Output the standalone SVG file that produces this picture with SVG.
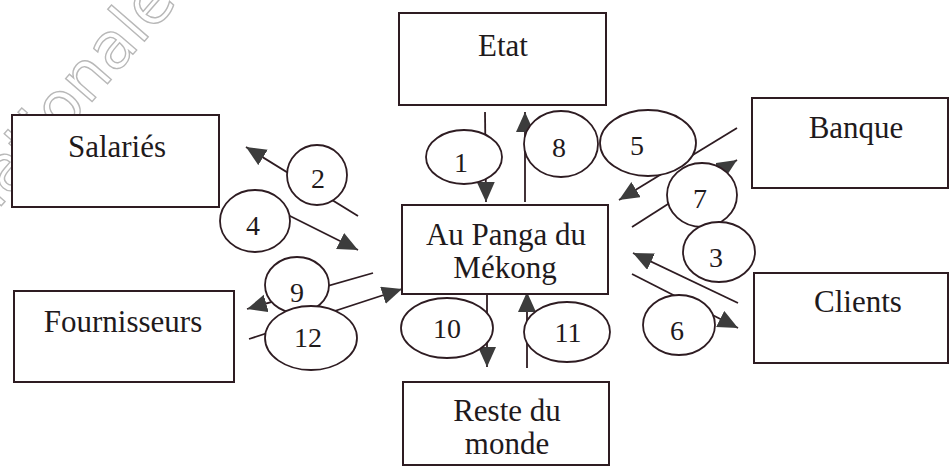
<svg xmlns="http://www.w3.org/2000/svg" width="950" height="467" viewBox="0 0 950 467">
<style>
.box{fill:#fff;stroke:#2e1c22;stroke-width:2}
.lbl{font-family:"Liberation Serif","Times New Roman",serif;font-size:31px;fill:#1f1a1c;text-anchor:middle}
.num{font-family:"Liberation Serif","Times New Roman",serif;font-size:28px;fill:#1f1a1c;text-anchor:middle}
.ell{fill:#fff;stroke:#2e1c22;stroke-width:1.8}
.ln{stroke:#2e1c22;stroke-width:1.8;fill:none;marker-end:url(#ah)}
.wm{font-family:"DejaVu Sans","Liberation Sans",sans-serif;font-size:64px;fill:none;stroke:#b8b8b8;stroke-width:1.4}
</style>
<defs>
<marker id="ah" markerUnits="userSpaceOnUse" markerWidth="22" markerHeight="20" refX="20" refY="9" orient="auto">
<path d="M0,0 L20,9 L0,18 z" fill="#3c3c3c"/>
</marker>
</defs>
<rect width="950" height="467" fill="#fff"/>
<text class="wm" transform="translate(-18,228) rotate(-49)">nationale e</text>

<g id="connectors">
<line class="ln" x1="485" y1="112" x2="486" y2="202"/>
<line class="ln" x1="525" y1="202" x2="525" y2="112"/>
<line class="ln" x1="737" y1="128" x2="619" y2="200"/>
<line class="ln" x1="632" y1="227" x2="737" y2="160"/>
<line class="ln" x1="738" y1="303" x2="633" y2="253"/>
<line class="ln" x1="632" y1="274" x2="738" y2="328"/>
<line class="ln" x1="358" y1="216" x2="246" y2="147"/>
<line class="ln" x1="262" y1="202" x2="358" y2="250"/>
<line class="ln" x1="373" y1="273" x2="247" y2="309"/>
<line class="ln" x1="249" y1="339" x2="402" y2="289"/>
<line class="ln" x1="487" y1="288" x2="487" y2="367"/>
<line class="ln" x1="527" y1="368" x2="527" y2="292"/>
</g>

<g id="etat"><rect class="box" x="399" y="13" width="207" height="92"/><text class="lbl" x="503" y="56">Etat</text></g>
<g id="salaries"><rect class="box" x="12" y="115" width="207" height="92"/><text class="lbl" x="117" y="157">Salariés</text></g>
<g id="fournisseurs"><rect class="box" x="14" y="291" width="220" height="91"/><text class="lbl" x="123" y="332">Fournisseurs</text></g>
<g id="aupanga"><rect class="box" x="402" y="205" width="206" height="89"/><text class="lbl" x="506" y="245">Au Panga du</text><text class="lbl" x="505" y="278">Mékong</text></g>
<g id="reste"><rect class="box" x="403" y="382" width="206" height="83"/><text class="lbl" x="507" y="421">Reste du</text><text class="lbl" x="507" y="454">monde</text></g>
<g id="banque"><rect class="box" x="752" y="98" width="196" height="90"/><text class="lbl" x="856" y="138">Banque</text></g>
<g id="clients"><rect class="box" x="754" y="273" width="194" height="90"/><text class="lbl" x="858" y="312">Clients</text></g>

<g id="f1"><ellipse class="ell" cx="464" cy="157" rx="38" ry="27"/><text class="num" x="461" y="172">1</text></g>
<g id="f8"><ellipse class="ell" cx="561" cy="144" rx="37" ry="33"/><text class="num" x="559" y="157">8</text></g>
<g id="f5"><ellipse class="ell" cx="648" cy="143" rx="48" ry="33"/><text class="num" x="637" y="155">5</text></g>
<g id="f7"><ellipse class="ell" cx="702" cy="195" rx="35" ry="32"/><text class="num" x="700" y="208">7</text></g>
<g id="f3"><ellipse class="ell" cx="719" cy="252" rx="36" ry="30"/><text class="num" x="716" y="267">3</text></g>
<g id="f6"><ellipse class="ell" cx="679" cy="325" rx="36" ry="30"/><text class="num" x="677" y="340">6</text></g>
<g id="f2"><ellipse class="ell" cx="317" cy="175" rx="30" ry="30"/><text class="num" x="318" y="188">2</text></g>
<g id="f4"><ellipse class="ell" cx="255" cy="221" rx="35" ry="31"/><text class="num" x="253" y="235">4</text></g>
<g id="f9"><ellipse class="ell" cx="297" cy="285" rx="32" ry="28"/><text class="num" x="297" y="302">9</text></g>
<g id="f12"><ellipse class="ell" cx="311" cy="338" rx="46" ry="32"/><text class="num" x="308" y="347">12</text></g>
<g id="f10"><ellipse class="ell" cx="447" cy="328" rx="46" ry="30"/><text class="num" x="447" y="338">10</text></g>
<g id="f11"><ellipse class="ell" cx="567" cy="332" rx="43" ry="30"/><text class="num" x="568" y="342">11</text></g>
</svg>
